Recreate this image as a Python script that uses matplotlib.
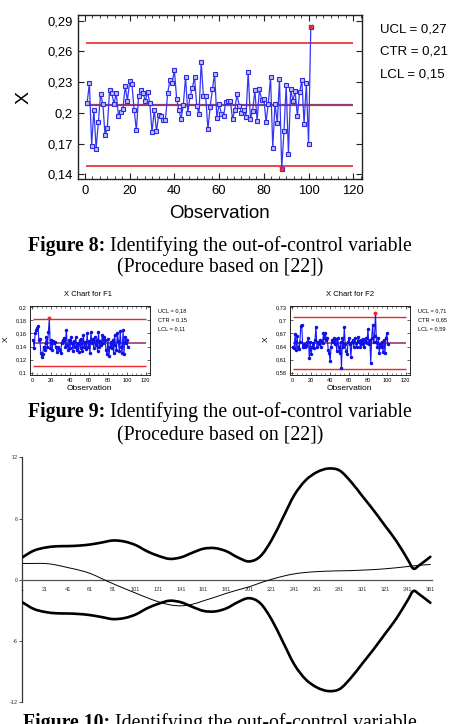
import matplotlib
matplotlib.use("Agg")
import matplotlib.pyplot as plt
from matplotlib.ticker import AutoMinorLocator
from matplotlib.path import Path
from matplotlib.patches import PathPatch

W, H = 450, 724

# ---------------- data ----------------
# Figure 8 chart (X chart)
obs8 = list(range(1, 102))
x8 = [0.210, 0.229, 0.168, 0.203, 0.165, 0.191, 0.218, 0.209, 0.178, 0.185,
      0.222, 0.219, 0.209, 0.219, 0.197, 0.201, 0.204, 0.226, 0.212, 0.231,
      0.228, 0.203, 0.183, 0.216, 0.222, 0.219, 0.212, 0.220, 0.210, 0.181,
      0.203, 0.182, 0.198, 0.197, 0.193, 0.193, 0.219, 0.232, 0.229, 0.242,
      0.214, 0.203, 0.194, 0.208, 0.235, 0.200, 0.216, 0.224, 0.235, 0.207,
      0.199, 0.250, 0.216, 0.216, 0.184, 0.206, 0.223, 0.238, 0.195, 0.209,
      0.199, 0.197, 0.211, 0.212, 0.212, 0.194, 0.203, 0.218, 0.207, 0.200,
      0.203, 0.196, 0.240, 0.194, 0.202, 0.222, 0.192, 0.223, 0.213, 0.214,
      0.191, 0.209, 0.235, 0.166, 0.209, 0.190, 0.233, 0.145, 0.182, 0.227,
      0.160, 0.223, 0.212, 0.221, 0.197, 0.220, 0.232, 0.189, 0.229, 0.170,
      0.284]
limits8 = [0.2682, 0.2079, 0.1477]          # UCL, CTR, LCL
legend8 = ["UCL = 0,27", "CTR = 0,21", "LCL = 0,15"]
yticks8 = [0.14, 0.17, 0.20, 0.23, 0.26, 0.29]
yticklabels8 = ["0,14", "0,17", "0,2", "0,23", "0,26", "0,29"]
xticks_obs = [0, 20, 40, 60, 80, 100, 120]

# Figure 9 charts (F1, F2)
obs9 = list(range(1, 102))
f1 = [0.150, 0.137, 0.160, 0.165, 0.168, 0.172, 0.150, 0.152, 0.130, 0.124,
      0.128, 0.140, 0.135, 0.145, 0.155, 0.140, 0.162, 0.183, 0.138, 0.150,
      0.135, 0.148, 0.145, 0.147, 0.140, 0.132, 0.140, 0.136, 0.135, 0.130,
      0.145, 0.150, 0.148, 0.153, 0.140, 0.166, 0.142, 0.135, 0.150, 0.138,
      0.155, 0.145, 0.133, 0.148, 0.140, 0.155, 0.135, 0.145, 0.132, 0.150,
      0.138, 0.152, 0.133, 0.158, 0.140, 0.147, 0.136, 0.160, 0.140, 0.148,
      0.130, 0.162, 0.145, 0.152, 0.138, 0.155, 0.142, 0.150, 0.133, 0.162,
      0.140, 0.148, 0.143, 0.157, 0.145, 0.155, 0.150, 0.135, 0.128, 0.152,
      0.125, 0.140, 0.147, 0.138, 0.150, 0.130, 0.158, 0.142, 0.135, 0.160,
      0.148, 0.133, 0.163, 0.140, 0.130, 0.165, 0.128, 0.155, 0.145, 0.150,
      0.140]
f2 = [0.640, 0.636, 0.668, 0.632, 0.665, 0.640, 0.635, 0.650, 0.688, 0.690,
      0.640, 0.645, 0.638, 0.644, 0.642, 0.650, 0.660, 0.613, 0.650, 0.622,
      0.640, 0.648, 0.637, 0.655, 0.685, 0.640, 0.650, 0.645, 0.655, 0.640,
      0.652, 0.648, 0.670, 0.660, 0.672, 0.655, 0.660, 0.632, 0.625, 0.606,
      0.640, 0.655, 0.650, 0.660, 0.645, 0.657, 0.630, 0.660, 0.640, 0.625,
      0.650, 0.590, 0.660, 0.640, 0.685, 0.645, 0.630, 0.622, 0.650, 0.660,
      0.645, 0.617, 0.650, 0.655, 0.640, 0.660, 0.648, 0.638, 0.652, 0.662,
      0.650, 0.640, 0.655, 0.645, 0.658, 0.640, 0.650, 0.660, 0.648, 0.680,
      0.645, 0.655, 0.603, 0.660, 0.690, 0.650, 0.665, 0.718, 0.650, 0.640,
      0.660, 0.625, 0.645, 0.640, 0.650, 0.628, 0.655, 0.625, 0.660, 0.670,
      0.645]
limits_f1 = [0.182, 0.146, 0.110]
limits_f2 = [0.708, 0.649, 0.5885]
legend_f1 = ["UCL = 0,18", "CTR = 0,15", "LCL = 0,11"]
legend_f2 = ["UCL = 0,71", "CTR = 0,65", "LCL = 0,59"]
yticks_f1 = [0.10, 0.12, 0.14, 0.16, 0.18, 0.20]
yticklabels_f1 = ["0,1", "0,12", "0,14", "0,16", "0,18", "0,2"]
yticks_f2 = [0.58, 0.61, 0.64, 0.67, 0.70, 0.73]
yticklabels_f2 = ["0,58", "0,61", "0,64", "0,67", "0,7", "0,73"]

# Figure 10 chart
thick_x = [1, 11, 21, 31, 41, 51, 61, 71, 81, 91, 101, 111, 121, 131, 141, 151,
           161, 171, 181, 191, 201, 211, 221, 231, 241, 251, 261, 271, 281, 291,
           301, 311, 321, 331, 341, 346, 351, 361]
upper = [2.2, 2.85, 3.15, 3.28, 3.3, 3.35, 3.46, 3.65, 3.85, 3.75, 3.4, 2.8,
         2.35, 2.05, 2.2, 2.65, 3.05, 3.1, 2.8, 2.2, 1.8, 2.3, 3.9, 6.1, 8.3,
         9.75, 10.55, 10.9, 10.7, 9.6, 8.2, 6.8, 5.3, 3.8, 2.0, 1.1, 1.4, 2.25]
lower = [-2.2, -2.85, -3.15, -3.28, -3.3, -3.35, -3.46, -3.65, -3.85, -3.75,
         -3.4, -2.8, -2.35, -2.05, -2.2, -2.65, -3.05, -3.1, -2.8, -2.2, -1.8,
         -2.3, -3.9, -6.1, -8.3, -9.75, -10.55, -10.9, -10.7, -9.6, -8.2, -6.8,
         -5.3, -3.8, -2.0, -1.1, -1.4, -2.25]
thin_x = [1, 11, 21, 31, 41, 51, 61, 71, 81, 91, 101, 111, 121, 131, 141, 151,
          161, 171, 181, 191, 201, 211, 221, 231, 241, 251, 261, 271, 281, 291,
          301, 311, 321, 331, 341, 351, 361]
thin = [1.6, 1.6, 1.6, 1.45, 1.2, 0.95, 0.62, 0.12, -0.38, -0.85, -1.3, -1.75,
        -2.15, -2.45, -2.55, -2.4, -2.05, -1.7, -1.33, -1.0, -0.69, -0.3, 0.05,
        0.35, 0.58, 0.72, 0.8, 0.85, 0.88, 0.9, 0.95, 1.0, 1.08, 1.18, 1.3,
        1.42, 1.5]
xticks10 = list(range(1, 362, 20))
xticklabels10 = [str(v) for v in xticks10]
yticks10 = [-12, -6, 0, 6, 12]
yticklabels10 = ["-12", "-6", "0", "6", "12"]

# ---------------- drawing ----------------
SANS = ["Liberation Sans", "DejaVu Sans"]
SERIF = ["Liberation Serif", "DejaVu Serif"]
plt.rcParams["font.family"] = SANS

fig = plt.figure(figsize=(W / 100, H / 100), dpi=100)
fig.patch.set_facecolor("white")


def rect(l, t, r, b):
    return [l / W, 1 - b / H, (r - l) / W, (b - t) / H]


def fx(px):
    return px / W


def fy(py):
    return 1 - py / H


RED = "#e8282c"
CTRC = "#973a73"
CAP = 14.2

# ---- Figure 8 chart ----
ax = fig.add_axes(rect(78, 15, 362, 179))
ax.set_xlim(-3.1, 123.9)
ax.set_ylim(0.1354, 0.2956)
ax.hlines([limits8[0], limits8[2]], 0.5, 120, color=RED, lw=1.2, zorder=2)
ax.hlines(limits8[1], 0.5, 120, color=CTRC, lw=1.6, zorder=2)
ax.plot(obs8, x8, color="#3535f5", lw=0.9, marker="s", ms=3.2,
        mfc="#bcbcff", mec="#2a2ae0", mew=0.8, zorder=3)
out_i = [i for i, v in enumerate(x8) if v > limits8[0] or v < limits8[2]]
ax.plot([obs8[i] for i in out_i], [x8[i] for i in out_i], ls="none",
        marker="x", ms=3.5, mew=1.3, color=RED, zorder=4)
ax.set_xticks(xticks_obs)
ax.set_xticklabels([str(v) for v in xticks_obs], fontsize=9.4)
ax.set_yticks(yticks8)
ax.set_yticklabels(yticklabels8, fontsize=9.4)
ax.xaxis.set_minor_locator(AutoMinorLocator(6))
ax.tick_params(which="both", direction="in", top=True, right=True,
               color="#222222")
ax.tick_params(which="major", length=4, width=0.8, pad=4)
ax.tick_params(which="minor", length=2.5, width=0.6)
for s in ax.spines.values():
    s.set_linewidth(1.0)
    s.set_color("#222222")
for i, t in enumerate(legend8):
    fig.text(fx(380), fy(29.5 + 22.5 * i), t, fontsize=9.5, va="center",
             ha="left")
fig.text(fx(219), fy(213), "Observation", fontsize=13.5, ha="center",
         va="center")
fig.text(fx(24), fy(97), "X", fontsize=14, ha="center", va="center",
         rotation=90)


def caption(cx, y_base, bold, regular, size=CAP):
    r = fig.canvas.get_renderer()
    t1 = fig.text(0, fy(y_base), bold, fontsize=size, weight="bold",
                  family=SERIF, va="baseline", ha="left")
    t2 = fig.text(0, fy(y_base), regular, fontsize=size, family=SERIF,
                  va="baseline", ha="left")
    w1 = t1.get_window_extent(r).width
    w2 = t2.get_window_extent(r).width
    x0 = cx - (w1 + w2) / 2
    t1.set_x(fx(x0))
    t2.set_x(fx(x0 + w1))


def center_line(cx, y_base, text, size=CAP):
    fig.text(fx(cx), fy(y_base), text, fontsize=size, family=SERIF,
             va="baseline", ha="center")


caption(220, 251, "Figure 8:", " Identifying the out-of-control variable")
center_line(220, 272, "(Procedure based on [22])")


# ---- Figure 9 charts ----
def small_chart(l, vals, lims, yt, ytl, ylim, title, legend, tx, lx):
    a = fig.add_axes(rect(l, 305.7, l + 120.5, 375))
    a.set_xlim(-2.96, 124.5)
    a.set_ylim(*ylim)
    a.hlines([lims[0], lims[2]], 0.5, 120, color=RED, lw=1.0, zorder=2)
    a.hlines(lims[1], 0.5, 120, color=CTRC, lw=1.2, zorder=2)
    a.plot(obs9, vals, color="#1414ff", lw=0.8, marker="o", ms=1.5,
           mfc="#1010e0", mec="#1010e0", zorder=3)
    oi = [i for i, v in enumerate(vals) if v > lims[0] or v < lims[2]]
    a.plot([obs9[i] for i in oi], [vals[i] for i in oi], ls="none",
           marker="s", ms=1.8, color=RED, zorder=4)
    a.set_xticks(xticks_obs)
    a.set_xticklabels([str(v) for v in xticks_obs], fontsize=4.1)
    a.set_yticks(yt)
    a.set_yticklabels(ytl, fontsize=4.1)
    a.xaxis.set_minor_locator(AutoMinorLocator(4))
    a.tick_params(which="both", direction="in", top=True, right=True,
                  color="#222222")
    a.tick_params(which="major", length=2, width=0.5, pad=2)
    a.tick_params(which="minor", length=1.2, width=0.4)
    for s in a.spines.values():
        s.set_linewidth(0.7)
        s.set_color("#222222")
    fig.text(fx(tx), fy(294.3), title, fontsize=5.5, ha="center", va="center")
    for i, t in enumerate(legend):
        fig.text(fx(lx), fy(310.7 + 9.2 * i), t, fontsize=4.1, ha="left",
                 va="center")
    fig.text(fx(l - 23.5), fy(339.5), "X", fontsize=6, ha="center",
             va="center", rotation=90)
    fig.text(fx(l + 59.5), fy(388), "Observation", fontsize=6, ha="center",
             va="center")
    return a


small_chart(29.5, f1, limits_f1, yticks_f1, yticklabels_f1, (0.0965, 0.2024),
            "X Chart for F1", legend_f1, 88.3, 158)
small_chart(289.5, f2, limits_f2, yticks_f2, yticklabels_f2, (0.5747, 0.7337),
            "X Chart for F2", legend_f2, 350, 418.3)

caption(220, 417, "Figure 9:", " Identifying the out-of-control variable")
center_line(220, 440, "(Procedure based on [22])")


# ---- Figure 10 chart (smoothed lines, as in a spreadsheet chart) ----
def smooth_path(xs, ys):
    n = len(xs)
    verts = [(xs[0], ys[0])]
    codes = [Path.MOVETO]
    for i in range(n - 1):
        i0 = max(i - 1, 0)
        i3 = min(i + 2, n - 1)
        c1 = (xs[i] + (xs[i + 1] - xs[i0]) / 6.0,
              ys[i] + (ys[i + 1] - ys[i0]) / 6.0)
        c2 = (xs[i + 1] - (xs[i3] - xs[i]) / 6.0,
              ys[i + 1] - (ys[i3] - ys[i]) / 6.0)
        verts += [c1, c2, (xs[i + 1], ys[i + 1])]
        codes += [Path.CURVE4] * 3
    return Path(verts, codes)


b = fig.add_axes(rect(22.3, 457.3, 431.7, 702.3))
b.set_xlim(1, 362.2)
b.set_ylim(-12, 12)
for ys, xs, lw in [(upper, thick_x, 1.9), (lower, thick_x, 1.9),
                   (thin, thin_x, 0.7)]:
    b.add_patch(PathPatch(smooth_path(xs, ys), fill=False, edgecolor="black",
                          lw=lw, joinstyle="round", capstyle="round",
                          zorder=3))
for s in ["top", "right"]:
    b.spines[s].set_visible(False)
b.spines["bottom"].set_position(("data", 0))
b.spines["bottom"].set_color("#555555")
b.spines["bottom"].set_linewidth(0.9)
b.spines["left"].set_color("#333333")
b.spines["left"].set_linewidth(0.9)
b.set_xticks(xticks10)
b.set_xticklabels(xticklabels10, fontsize=4, color="#333333")
b.set_yticks(yticks10)
b.set_yticklabels(yticklabels10, fontsize=4, color="#333333")
b.tick_params(axis="x", length=0, pad=5.5)
b.tick_params(axis="y", length=2, width=0.6, pad=1.2, color="#333333")
b.patch.set_alpha(0)

caption(220, 728, "Figure 10:", " Identifying the out-of-control variable")

fig.savefig("out.png", dpi=100, facecolor="white")
